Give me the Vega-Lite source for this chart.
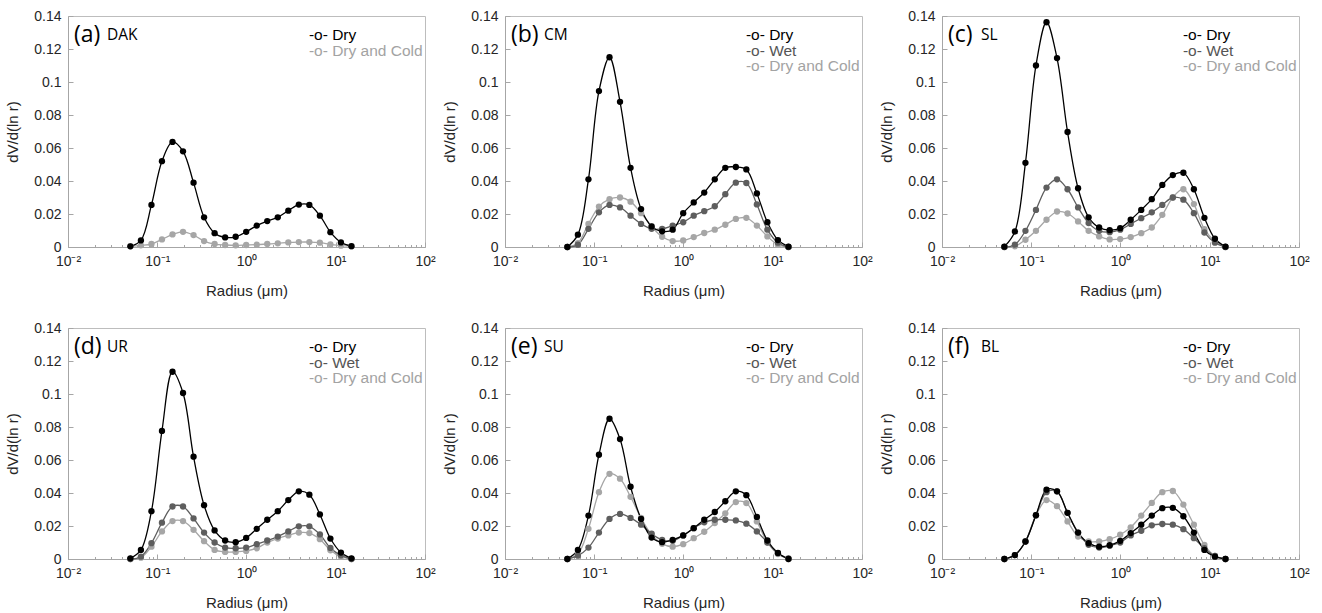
{
  "$schema": "https://vega.github.io/schema/vega-lite/v6.json",
  "padding": {"left": 5, "top": 8, "right": 0, "bottom": 0},
  "background": "white",
  "config": {
    "view": {"stroke": "#bdbdbd", "strokeWidth": 1},
    "header": {"labels": false, "title": null, "labelFontSize": 0, "labelPadding": 0, "titlePadding": 0},
    "axis": {"labelFont": "Liberation Sans", "titleFont": "Liberation Sans", "labelFontSize": 14, "titleFontSize": 15, "labelColor": "#262626", "titleColor": "#262626", "titleFontWeight": "normal", "domainColor": "#a6a6a6", "tickColor": "#a6a6a6", "grid": false}
  },
  "data": {"values": [
{"p":"(a) DAK","s":"Dry and Cold","r":0.05,"v":0.0005},{"p":"(a) DAK","s":"Dry and Cold","r":0.0656,"v":0.001},{"p":"(a) DAK","s":"Dry and Cold","r":0.0861,"v":0.0018},{"p":"(a) DAK","s":"Dry and Cold","r":0.1129,"v":0.0046},{"p":"(a) DAK","s":"Dry and Cold","r":0.1482,"v":0.0076},{"p":"(a) DAK","s":"Dry and Cold","r":0.1944,"v":0.0092},{"p":"(a) DAK","s":"Dry and Cold","r":0.2551,"v":0.0072},{"p":"(a) DAK","s":"Dry and Cold","r":0.3347,"v":0.0036},{"p":"(a) DAK","s":"Dry and Cold","r":0.4392,"v":0.0018},{"p":"(a) DAK","s":"Dry and Cold","r":0.5762,"v":0.0012},{"p":"(a) DAK","s":"Dry and Cold","r":0.7561,"v":0.001},{"p":"(a) DAK","s":"Dry and Cold","r":0.992,"v":0.0012},{"p":"(a) DAK","s":"Dry and Cold","r":1.3016,"v":0.0014},{"p":"(a) DAK","s":"Dry and Cold","r":1.7078,"v":0.0018},{"p":"(a) DAK","s":"Dry and Cold","r":2.2407,"v":0.0022},{"p":"(a) DAK","s":"Dry and Cold","r":2.94,"v":0.0028},{"p":"(a) DAK","s":"Dry and Cold","r":3.8575,"v":0.003},{"p":"(a) DAK","s":"Dry and Cold","r":5.0613,"v":0.003},{"p":"(a) DAK","s":"Dry and Cold","r":6.6407,"v":0.0026},{"p":"(a) DAK","s":"Dry and Cold","r":8.7131,"v":0.0016},{"p":"(a) DAK","s":"Dry and Cold","r":11.4323,"v":0.0008},{"p":"(a) DAK","s":"Dry and Cold","r":15,"v":0.0004},
{"p":"(a) DAK","s":"Dry","r":0.05,"v":0.0004},{"p":"(a) DAK","s":"Dry","r":0.0656,"v":0.004},{"p":"(a) DAK","s":"Dry","r":0.0861,"v":0.0255},{"p":"(a) DAK","s":"Dry","r":0.1129,"v":0.052},{"p":"(a) DAK","s":"Dry","r":0.1482,"v":0.0637},{"p":"(a) DAK","s":"Dry","r":0.1944,"v":0.058},{"p":"(a) DAK","s":"Dry","r":0.2551,"v":0.039},{"p":"(a) DAK","s":"Dry","r":0.3347,"v":0.018},{"p":"(a) DAK","s":"Dry","r":0.4392,"v":0.0084},{"p":"(a) DAK","s":"Dry","r":0.5762,"v":0.0058},{"p":"(a) DAK","s":"Dry","r":0.7561,"v":0.0062},{"p":"(a) DAK","s":"Dry","r":0.992,"v":0.0092},{"p":"(a) DAK","s":"Dry","r":1.3016,"v":0.013},{"p":"(a) DAK","s":"Dry","r":1.7078,"v":0.0157},{"p":"(a) DAK","s":"Dry","r":2.2407,"v":0.018},{"p":"(a) DAK","s":"Dry","r":2.94,"v":0.022},{"p":"(a) DAK","s":"Dry","r":3.8575,"v":0.0257},{"p":"(a) DAK","s":"Dry","r":5.0613,"v":0.0255},{"p":"(a) DAK","s":"Dry","r":6.6407,"v":0.019},{"p":"(a) DAK","s":"Dry","r":8.7131,"v":0.009},{"p":"(a) DAK","s":"Dry","r":11.4323,"v":0.0028},{"p":"(a) DAK","s":"Dry","r":15,"v":0.0005},
{"p":"(b) CM","s":"Dry and Cold","r":0.05,"v":0},{"p":"(b) CM","s":"Dry and Cold","r":0.0656,"v":0.0024},{"p":"(b) CM","s":"Dry and Cold","r":0.0861,"v":0.014},{"p":"(b) CM","s":"Dry and Cold","r":0.1129,"v":0.0245},{"p":"(b) CM","s":"Dry and Cold","r":0.1482,"v":0.029},{"p":"(b) CM","s":"Dry and Cold","r":0.1944,"v":0.03},{"p":"(b) CM","s":"Dry and Cold","r":0.2551,"v":0.0275},{"p":"(b) CM","s":"Dry and Cold","r":0.3347,"v":0.0205},{"p":"(b) CM","s":"Dry and Cold","r":0.4392,"v":0.0125},{"p":"(b) CM","s":"Dry and Cold","r":0.5762,"v":0.0062},{"p":"(b) CM","s":"Dry and Cold","r":0.7561,"v":0.0036},{"p":"(b) CM","s":"Dry and Cold","r":0.992,"v":0.004},{"p":"(b) CM","s":"Dry and Cold","r":1.3016,"v":0.006},{"p":"(b) CM","s":"Dry and Cold","r":1.7078,"v":0.0085},{"p":"(b) CM","s":"Dry and Cold","r":2.2407,"v":0.0105},{"p":"(b) CM","s":"Dry and Cold","r":2.94,"v":0.0135},{"p":"(b) CM","s":"Dry and Cold","r":3.8575,"v":0.017},{"p":"(b) CM","s":"Dry and Cold","r":5.0613,"v":0.0177},{"p":"(b) CM","s":"Dry and Cold","r":6.6407,"v":0.013},{"p":"(b) CM","s":"Dry and Cold","r":8.7131,"v":0.0064},{"p":"(b) CM","s":"Dry and Cold","r":11.4323,"v":0.0014},{"p":"(b) CM","s":"Dry and Cold","r":15,"v":0},
{"p":"(b) CM","s":"Wet","r":0.05,"v":0},{"p":"(b) CM","s":"Wet","r":0.0656,"v":0.0014},{"p":"(b) CM","s":"Wet","r":0.0861,"v":0.011},{"p":"(b) CM","s":"Wet","r":0.1129,"v":0.021},{"p":"(b) CM","s":"Wet","r":0.1482,"v":0.0255},{"p":"(b) CM","s":"Wet","r":0.1944,"v":0.024},{"p":"(b) CM","s":"Wet","r":0.2551,"v":0.019},{"p":"(b) CM","s":"Wet","r":0.3347,"v":0.014},{"p":"(b) CM","s":"Wet","r":0.4392,"v":0.011},{"p":"(b) CM","s":"Wet","r":0.5762,"v":0.011},{"p":"(b) CM","s":"Wet","r":0.7561,"v":0.013},{"p":"(b) CM","s":"Wet","r":0.992,"v":0.015},{"p":"(b) CM","s":"Wet","r":1.3016,"v":0.019},{"p":"(b) CM","s":"Wet","r":1.7078,"v":0.0217},{"p":"(b) CM","s":"Wet","r":2.2407,"v":0.0247},{"p":"(b) CM","s":"Wet","r":2.94,"v":0.032},{"p":"(b) CM","s":"Wet","r":3.8575,"v":0.039},{"p":"(b) CM","s":"Wet","r":5.0613,"v":0.0388},{"p":"(b) CM","s":"Wet","r":6.6407,"v":0.0258},{"p":"(b) CM","s":"Wet","r":8.7131,"v":0.0105},{"p":"(b) CM","s":"Wet","r":11.4323,"v":0.0026},{"p":"(b) CM","s":"Wet","r":15,"v":0},
{"p":"(b) CM","s":"Dry","r":0.05,"v":0},{"p":"(b) CM","s":"Dry","r":0.0656,"v":0.0075},{"p":"(b) CM","s":"Dry","r":0.0861,"v":0.041},{"p":"(b) CM","s":"Dry","r":0.1129,"v":0.0945},{"p":"(b) CM","s":"Dry","r":0.1482,"v":0.115},{"p":"(b) CM","s":"Dry","r":0.1944,"v":0.088},{"p":"(b) CM","s":"Dry","r":0.2551,"v":0.048},{"p":"(b) CM","s":"Dry","r":0.3347,"v":0.023},{"p":"(b) CM","s":"Dry","r":0.4392,"v":0.0125},{"p":"(b) CM","s":"Dry","r":0.5762,"v":0.0095},{"p":"(b) CM","s":"Dry","r":0.7561,"v":0.0105},{"p":"(b) CM","s":"Dry","r":0.992,"v":0.0205},{"p":"(b) CM","s":"Dry","r":1.3016,"v":0.027},{"p":"(b) CM","s":"Dry","r":1.7078,"v":0.033},{"p":"(b) CM","s":"Dry","r":2.2407,"v":0.041},{"p":"(b) CM","s":"Dry","r":2.94,"v":0.048},{"p":"(b) CM","s":"Dry","r":3.8575,"v":0.0485},{"p":"(b) CM","s":"Dry","r":5.0613,"v":0.047},{"p":"(b) CM","s":"Dry","r":6.6407,"v":0.0325},{"p":"(b) CM","s":"Dry","r":8.7131,"v":0.015},{"p":"(b) CM","s":"Dry","r":11.4323,"v":0.0042},{"p":"(b) CM","s":"Dry","r":15,"v":0.0002},
{"p":"(c) SL","s":"Dry and Cold","r":0.05,"v":0},{"p":"(c) SL","s":"Dry and Cold","r":0.0656,"v":0.0004},{"p":"(c) SL","s":"Dry and Cold","r":0.0861,"v":0.0044},{"p":"(c) SL","s":"Dry and Cold","r":0.1129,"v":0.0098},{"p":"(c) SL","s":"Dry and Cold","r":0.1482,"v":0.0165},{"p":"(c) SL","s":"Dry and Cold","r":0.1944,"v":0.0215},{"p":"(c) SL","s":"Dry and Cold","r":0.2551,"v":0.0203},{"p":"(c) SL","s":"Dry and Cold","r":0.3347,"v":0.0155},{"p":"(c) SL","s":"Dry and Cold","r":0.4392,"v":0.0098},{"p":"(c) SL","s":"Dry and Cold","r":0.5762,"v":0.0064},{"p":"(c) SL","s":"Dry and Cold","r":0.7561,"v":0.0046},{"p":"(c) SL","s":"Dry and Cold","r":0.992,"v":0.0048},{"p":"(c) SL","s":"Dry and Cold","r":1.3016,"v":0.006},{"p":"(c) SL","s":"Dry and Cold","r":1.7078,"v":0.0084},{"p":"(c) SL","s":"Dry and Cold","r":2.2407,"v":0.0118},{"p":"(c) SL","s":"Dry and Cold","r":2.94,"v":0.0195},{"p":"(c) SL","s":"Dry and Cold","r":3.8575,"v":0.03},{"p":"(c) SL","s":"Dry and Cold","r":5.0613,"v":0.035},{"p":"(c) SL","s":"Dry and Cold","r":6.6407,"v":0.026},{"p":"(c) SL","s":"Dry and Cold","r":8.7131,"v":0.0108},{"p":"(c) SL","s":"Dry and Cold","r":11.4323,"v":0.0034},{"p":"(c) SL","s":"Dry and Cold","r":15,"v":0},
{"p":"(c) SL","s":"Wet","r":0.05,"v":0},{"p":"(c) SL","s":"Wet","r":0.0656,"v":0.0014},{"p":"(c) SL","s":"Wet","r":0.0861,"v":0.0098},{"p":"(c) SL","s":"Wet","r":0.1129,"v":0.0225},{"p":"(c) SL","s":"Wet","r":0.1482,"v":0.036},{"p":"(c) SL","s":"Wet","r":0.1944,"v":0.041},{"p":"(c) SL","s":"Wet","r":0.2551,"v":0.035},{"p":"(c) SL","s":"Wet","r":0.3347,"v":0.024},{"p":"(c) SL","s":"Wet","r":0.4392,"v":0.0145},{"p":"(c) SL","s":"Wet","r":0.5762,"v":0.0098},{"p":"(c) SL","s":"Wet","r":0.7561,"v":0.009},{"p":"(c) SL","s":"Wet","r":0.992,"v":0.0105},{"p":"(c) SL","s":"Wet","r":1.3016,"v":0.014},{"p":"(c) SL","s":"Wet","r":1.7078,"v":0.0175},{"p":"(c) SL","s":"Wet","r":2.2407,"v":0.021},{"p":"(c) SL","s":"Wet","r":2.94,"v":0.0255},{"p":"(c) SL","s":"Wet","r":3.8575,"v":0.03},{"p":"(c) SL","s":"Wet","r":5.0613,"v":0.0287},{"p":"(c) SL","s":"Wet","r":6.6407,"v":0.0205},{"p":"(c) SL","s":"Wet","r":8.7131,"v":0.0088},{"p":"(c) SL","s":"Wet","r":11.4323,"v":0.0026},{"p":"(c) SL","s":"Wet","r":15,"v":0},
{"p":"(c) SL","s":"Dry","r":0.05,"v":0.0002},{"p":"(c) SL","s":"Dry","r":0.0656,"v":0.0094},{"p":"(c) SL","s":"Dry","r":0.0861,"v":0.051},{"p":"(c) SL","s":"Dry","r":0.1129,"v":0.11},{"p":"(c) SL","s":"Dry","r":0.1482,"v":0.1362},{"p":"(c) SL","s":"Dry","r":0.1944,"v":0.1145},{"p":"(c) SL","s":"Dry","r":0.2551,"v":0.0697},{"p":"(c) SL","s":"Dry","r":0.3347,"v":0.0356},{"p":"(c) SL","s":"Dry","r":0.4392,"v":0.018},{"p":"(c) SL","s":"Dry","r":0.5762,"v":0.0118},{"p":"(c) SL","s":"Dry","r":0.7561,"v":0.0102},{"p":"(c) SL","s":"Dry","r":0.992,"v":0.0114},{"p":"(c) SL","s":"Dry","r":1.3016,"v":0.0165},{"p":"(c) SL","s":"Dry","r":1.7078,"v":0.0225},{"p":"(c) SL","s":"Dry","r":2.2407,"v":0.029},{"p":"(c) SL","s":"Dry","r":2.94,"v":0.0376},{"p":"(c) SL","s":"Dry","r":3.8575,"v":0.0436},{"p":"(c) SL","s":"Dry","r":5.0613,"v":0.045},{"p":"(c) SL","s":"Dry","r":6.6407,"v":0.035},{"p":"(c) SL","s":"Dry","r":8.7131,"v":0.0177},{"p":"(c) SL","s":"Dry","r":11.4323,"v":0.005},{"p":"(c) SL","s":"Dry","r":15,"v":0.0002},
{"p":"(d) UR","s":"Dry and Cold","r":0.05,"v":0},{"p":"(d) UR","s":"Dry and Cold","r":0.0656,"v":0.0008},{"p":"(d) UR","s":"Dry and Cold","r":0.0861,"v":0.0075},{"p":"(d) UR","s":"Dry and Cold","r":0.1129,"v":0.0167},{"p":"(d) UR","s":"Dry and Cold","r":0.1482,"v":0.023},{"p":"(d) UR","s":"Dry and Cold","r":0.1944,"v":0.023},{"p":"(d) UR","s":"Dry and Cold","r":0.2551,"v":0.0177},{"p":"(d) UR","s":"Dry and Cold","r":0.3347,"v":0.0108},{"p":"(d) UR","s":"Dry and Cold","r":0.4392,"v":0.0055},{"p":"(d) UR","s":"Dry and Cold","r":0.5762,"v":0.0043},{"p":"(d) UR","s":"Dry and Cold","r":0.7561,"v":0.0043},{"p":"(d) UR","s":"Dry and Cold","r":0.992,"v":0.0049},{"p":"(d) UR","s":"Dry and Cold","r":1.3016,"v":0.0065},{"p":"(d) UR","s":"Dry and Cold","r":1.7078,"v":0.01},{"p":"(d) UR","s":"Dry and Cold","r":2.2407,"v":0.0124},{"p":"(d) UR","s":"Dry and Cold","r":2.94,"v":0.0143},{"p":"(d) UR","s":"Dry and Cold","r":3.8575,"v":0.016},{"p":"(d) UR","s":"Dry and Cold","r":5.0613,"v":0.0157},{"p":"(d) UR","s":"Dry and Cold","r":6.6407,"v":0.012},{"p":"(d) UR","s":"Dry and Cold","r":8.7131,"v":0.0053},{"p":"(d) UR","s":"Dry and Cold","r":11.4323,"v":0.0014},{"p":"(d) UR","s":"Dry and Cold","r":15,"v":0},
{"p":"(d) UR","s":"Wet","r":0.05,"v":0},{"p":"(d) UR","s":"Wet","r":0.0656,"v":0.0014},{"p":"(d) UR","s":"Wet","r":0.0861,"v":0.0096},{"p":"(d) UR","s":"Wet","r":0.1129,"v":0.022},{"p":"(d) UR","s":"Wet","r":0.1482,"v":0.0318},{"p":"(d) UR","s":"Wet","r":0.1944,"v":0.0318},{"p":"(d) UR","s":"Wet","r":0.2551,"v":0.0246},{"p":"(d) UR","s":"Wet","r":0.3347,"v":0.016},{"p":"(d) UR","s":"Wet","r":0.4392,"v":0.01},{"p":"(d) UR","s":"Wet","r":0.5762,"v":0.0069},{"p":"(d) UR","s":"Wet","r":0.7561,"v":0.0065},{"p":"(d) UR","s":"Wet","r":0.992,"v":0.0069},{"p":"(d) UR","s":"Wet","r":1.3016,"v":0.009},{"p":"(d) UR","s":"Wet","r":1.7078,"v":0.0112},{"p":"(d) UR","s":"Wet","r":2.2407,"v":0.0136},{"p":"(d) UR","s":"Wet","r":2.94,"v":0.0167},{"p":"(d) UR","s":"Wet","r":3.8575,"v":0.0198},{"p":"(d) UR","s":"Wet","r":5.0613,"v":0.0198},{"p":"(d) UR","s":"Wet","r":6.6407,"v":0.0149},{"p":"(d) UR","s":"Wet","r":8.7131,"v":0.0067},{"p":"(d) UR","s":"Wet","r":11.4323,"v":0.0022},{"p":"(d) UR","s":"Wet","r":15,"v":0},
{"p":"(d) UR","s":"Dry","r":0.05,"v":0.0004},{"p":"(d) UR","s":"Dry","r":0.0656,"v":0.0055},{"p":"(d) UR","s":"Dry","r":0.0861,"v":0.029},{"p":"(d) UR","s":"Dry","r":0.1129,"v":0.0776},{"p":"(d) UR","s":"Dry","r":0.1482,"v":0.1135},{"p":"(d) UR","s":"Dry","r":0.1944,"v":0.1006},{"p":"(d) UR","s":"Dry","r":0.2551,"v":0.062},{"p":"(d) UR","s":"Dry","r":0.3347,"v":0.0326},{"p":"(d) UR","s":"Dry","r":0.4392,"v":0.0173},{"p":"(d) UR","s":"Dry","r":0.5762,"v":0.0112},{"p":"(d) UR","s":"Dry","r":0.7561,"v":0.0102},{"p":"(d) UR","s":"Dry","r":0.992,"v":0.0128},{"p":"(d) UR","s":"Dry","r":1.3016,"v":0.0183},{"p":"(d) UR","s":"Dry","r":1.7078,"v":0.0238},{"p":"(d) UR","s":"Dry","r":2.2407,"v":0.029},{"p":"(d) UR","s":"Dry","r":2.94,"v":0.0357},{"p":"(d) UR","s":"Dry","r":3.8575,"v":0.041},{"p":"(d) UR","s":"Dry","r":5.0613,"v":0.039},{"p":"(d) UR","s":"Dry","r":6.6407,"v":0.027},{"p":"(d) UR","s":"Dry","r":8.7131,"v":0.0124},{"p":"(d) UR","s":"Dry","r":11.4323,"v":0.0039},{"p":"(d) UR","s":"Dry","r":15,"v":0.0004},
{"p":"(e) SU","s":"Dry and Cold","r":0.05,"v":0},{"p":"(e) SU","s":"Dry and Cold","r":0.0656,"v":0.003},{"p":"(e) SU","s":"Dry and Cold","r":0.0861,"v":0.0183},{"p":"(e) SU","s":"Dry and Cold","r":0.1129,"v":0.0405},{"p":"(e) SU","s":"Dry and Cold","r":0.1482,"v":0.0516},{"p":"(e) SU","s":"Dry and Cold","r":0.1944,"v":0.0487},{"p":"(e) SU","s":"Dry and Cold","r":0.2551,"v":0.0377},{"p":"(e) SU","s":"Dry and Cold","r":0.3347,"v":0.0249},{"p":"(e) SU","s":"Dry and Cold","r":0.4392,"v":0.0147},{"p":"(e) SU","s":"Dry and Cold","r":0.5762,"v":0.0092},{"p":"(e) SU","s":"Dry and Cold","r":0.7561,"v":0.0075},{"p":"(e) SU","s":"Dry and Cold","r":0.992,"v":0.009},{"p":"(e) SU","s":"Dry and Cold","r":1.3016,"v":0.0126},{"p":"(e) SU","s":"Dry and Cold","r":1.7078,"v":0.0165},{"p":"(e) SU","s":"Dry and Cold","r":2.2407,"v":0.0218},{"p":"(e) SU","s":"Dry and Cold","r":2.94,"v":0.0277},{"p":"(e) SU","s":"Dry and Cold","r":3.8575,"v":0.0345},{"p":"(e) SU","s":"Dry and Cold","r":5.0613,"v":0.0339},{"p":"(e) SU","s":"Dry and Cold","r":6.6407,"v":0.0228},{"p":"(e) SU","s":"Dry and Cold","r":8.7131,"v":0.01},{"p":"(e) SU","s":"Dry and Cold","r":11.4323,"v":0.003},{"p":"(e) SU","s":"Dry and Cold","r":15,"v":0},
{"p":"(e) SU","s":"Wet","r":0.05,"v":0},{"p":"(e) SU","s":"Wet","r":0.0656,"v":0.002},{"p":"(e) SU","s":"Wet","r":0.0861,"v":0.0069},{"p":"(e) SU","s":"Wet","r":0.1129,"v":0.016},{"p":"(e) SU","s":"Wet","r":0.1482,"v":0.0243},{"p":"(e) SU","s":"Wet","r":0.1944,"v":0.0273},{"p":"(e) SU","s":"Wet","r":0.2551,"v":0.0249},{"p":"(e) SU","s":"Wet","r":0.3347,"v":0.0208},{"p":"(e) SU","s":"Wet","r":0.4392,"v":0.0153},{"p":"(e) SU","s":"Wet","r":0.5762,"v":0.0116},{"p":"(e) SU","s":"Wet","r":0.7561,"v":0.011},{"p":"(e) SU","s":"Wet","r":0.992,"v":0.0143},{"p":"(e) SU","s":"Wet","r":1.3016,"v":0.0187},{"p":"(e) SU","s":"Wet","r":1.7078,"v":0.0222},{"p":"(e) SU","s":"Wet","r":2.2407,"v":0.0238},{"p":"(e) SU","s":"Wet","r":2.94,"v":0.0238},{"p":"(e) SU","s":"Wet","r":3.8575,"v":0.0234},{"p":"(e) SU","s":"Wet","r":5.0613,"v":0.0214},{"p":"(e) SU","s":"Wet","r":6.6407,"v":0.0167},{"p":"(e) SU","s":"Wet","r":8.7131,"v":0.01},{"p":"(e) SU","s":"Wet","r":11.4323,"v":0.0035},{"p":"(e) SU","s":"Wet","r":15,"v":0.0004},
{"p":"(e) SU","s":"Dry","r":0.05,"v":0},{"p":"(e) SU","s":"Dry","r":0.0656,"v":0.0055},{"p":"(e) SU","s":"Dry","r":0.0861,"v":0.0263},{"p":"(e) SU","s":"Dry","r":0.1129,"v":0.0632},{"p":"(e) SU","s":"Dry","r":0.1482,"v":0.085},{"p":"(e) SU","s":"Dry","r":0.1944,"v":0.0727},{"p":"(e) SU","s":"Dry","r":0.2551,"v":0.0438},{"p":"(e) SU","s":"Dry","r":0.3347,"v":0.0243},{"p":"(e) SU","s":"Dry","r":0.4392,"v":0.013},{"p":"(e) SU","s":"Dry","r":0.5762,"v":0.0102},{"p":"(e) SU","s":"Dry","r":0.7561,"v":0.0116},{"p":"(e) SU","s":"Dry","r":0.992,"v":0.0143},{"p":"(e) SU","s":"Dry","r":1.3016,"v":0.0187},{"p":"(e) SU","s":"Dry","r":1.7078,"v":0.0238},{"p":"(e) SU","s":"Dry","r":2.2407,"v":0.0285},{"p":"(e) SU","s":"Dry","r":2.94,"v":0.035},{"p":"(e) SU","s":"Dry","r":3.8575,"v":0.041},{"p":"(e) SU","s":"Dry","r":5.0613,"v":0.0387},{"p":"(e) SU","s":"Dry","r":6.6407,"v":0.0255},{"p":"(e) SU","s":"Dry","r":8.7131,"v":0.0112},{"p":"(e) SU","s":"Dry","r":11.4323,"v":0.0037},{"p":"(e) SU","s":"Dry","r":15,"v":0},
{"p":"(f) BL","s":"Dry and Cold","r":0.05,"v":0},{"p":"(f) BL","s":"Dry and Cold","r":0.0656,"v":0.0024},{"p":"(f) BL","s":"Dry and Cold","r":0.0861,"v":0.0106},{"p":"(f) BL","s":"Dry and Cold","r":0.1129,"v":0.0265},{"p":"(f) BL","s":"Dry and Cold","r":0.1482,"v":0.0357},{"p":"(f) BL","s":"Dry and Cold","r":0.1944,"v":0.032},{"p":"(f) BL","s":"Dry and Cold","r":0.2551,"v":0.0228},{"p":"(f) BL","s":"Dry and Cold","r":0.3347,"v":0.0136},{"p":"(f) BL","s":"Dry and Cold","r":0.4392,"v":0.0106},{"p":"(f) BL","s":"Dry and Cold","r":0.5762,"v":0.0106},{"p":"(f) BL","s":"Dry and Cold","r":0.7561,"v":0.012},{"p":"(f) BL","s":"Dry and Cold","r":0.992,"v":0.0147},{"p":"(f) BL","s":"Dry and Cold","r":1.3016,"v":0.0192},{"p":"(f) BL","s":"Dry and Cold","r":1.7078,"v":0.0263},{"p":"(f) BL","s":"Dry and Cold","r":2.2407,"v":0.034},{"p":"(f) BL","s":"Dry and Cold","r":2.94,"v":0.0405},{"p":"(f) BL","s":"Dry and Cold","r":3.8575,"v":0.0412},{"p":"(f) BL","s":"Dry and Cold","r":5.0613,"v":0.033},{"p":"(f) BL","s":"Dry and Cold","r":6.6407,"v":0.0208},{"p":"(f) BL","s":"Dry and Cold","r":8.7131,"v":0.0086},{"p":"(f) BL","s":"Dry and Cold","r":11.4323,"v":0.0018},{"p":"(f) BL","s":"Dry and Cold","r":15,"v":0},
{"p":"(f) BL","s":"Wet","r":0.05,"v":0},{"p":"(f) BL","s":"Wet","r":0.0656,"v":0.0024},{"p":"(f) BL","s":"Wet","r":0.0861,"v":0.0106},{"p":"(f) BL","s":"Wet","r":0.1129,"v":0.0265},{"p":"(f) BL","s":"Wet","r":0.1482,"v":0.0405},{"p":"(f) BL","s":"Wet","r":0.1944,"v":0.041},{"p":"(f) BL","s":"Wet","r":0.2551,"v":0.028},{"p":"(f) BL","s":"Wet","r":0.3347,"v":0.016},{"p":"(f) BL","s":"Wet","r":0.4392,"v":0.0086},{"p":"(f) BL","s":"Wet","r":0.5762,"v":0.0069},{"p":"(f) BL","s":"Wet","r":0.7561,"v":0.008},{"p":"(f) BL","s":"Wet","r":0.992,"v":0.01},{"p":"(f) BL","s":"Wet","r":1.3016,"v":0.0143},{"p":"(f) BL","s":"Wet","r":1.7078,"v":0.0171},{"p":"(f) BL","s":"Wet","r":2.2407,"v":0.0204},{"p":"(f) BL","s":"Wet","r":2.94,"v":0.0212},{"p":"(f) BL","s":"Wet","r":3.8575,"v":0.0208},{"p":"(f) BL","s":"Wet","r":5.0613,"v":0.0181},{"p":"(f) BL","s":"Wet","r":6.6407,"v":0.0126},{"p":"(f) BL","s":"Wet","r":8.7131,"v":0.0065},{"p":"(f) BL","s":"Wet","r":11.4323,"v":0.0018},{"p":"(f) BL","s":"Wet","r":15,"v":0},
{"p":"(f) BL","s":"Dry","r":0.05,"v":0},{"p":"(f) BL","s":"Dry","r":0.0656,"v":0.0024},{"p":"(f) BL","s":"Dry","r":0.0861,"v":0.0106},{"p":"(f) BL","s":"Dry","r":0.1129,"v":0.0265},{"p":"(f) BL","s":"Dry","r":0.1482,"v":0.042},{"p":"(f) BL","s":"Dry","r":0.1944,"v":0.041},{"p":"(f) BL","s":"Dry","r":0.2551,"v":0.028},{"p":"(f) BL","s":"Dry","r":0.3347,"v":0.016},{"p":"(f) BL","s":"Dry","r":0.4392,"v":0.0096},{"p":"(f) BL","s":"Dry","r":0.5762,"v":0.0075},{"p":"(f) BL","s":"Dry","r":0.7561,"v":0.0084},{"p":"(f) BL","s":"Dry","r":0.992,"v":0.011},{"p":"(f) BL","s":"Dry","r":1.3016,"v":0.0157},{"p":"(f) BL","s":"Dry","r":1.7078,"v":0.0208},{"p":"(f) BL","s":"Dry","r":2.2407,"v":0.0263},{"p":"(f) BL","s":"Dry","r":2.94,"v":0.0308},{"p":"(f) BL","s":"Dry","r":3.8575,"v":0.031},{"p":"(f) BL","s":"Dry","r":5.0613,"v":0.0259},{"p":"(f) BL","s":"Dry","r":6.6407,"v":0.016},{"p":"(f) BL","s":"Dry","r":8.7131,"v":0.0055},{"p":"(f) BL","s":"Dry","r":11.4323,"v":0.0014},{"p":"(f) BL","s":"Dry","r":15,"v":0}
  ]},
  "facet": {"field": "p", "type": "nominal", "header": null},
  "columns": 3,
  "spacing": {"column": 80, "row": 81},
  "bounds": "flush",
  "resolve": {"axis": {"x": "independent", "y": "independent"}},
  "spec": {
    "width": 357,
    "height": 231,
    "encoding": {
      "x": {"field": "r", "type": "quantitative",
        "scale": {"type": "log", "domain": [0.01, 100], "nice": false},
        "axis": {"title": "Radius (μm)", "titlePadding": 13,
          "values": [0.01,0.02,0.03,0.04,0.05,0.06,0.07,0.08,0.09,0.1,0.2,0.3,0.4,0.5,0.6,0.7,0.8,0.9,1,2,3,4,5,6,7,8,9,10,20,30,40,50,60,70,80,90,100],
          "labelExpr": "datum.value==0.01?'10⁻²':datum.value==0.1?'10⁻¹':datum.value==1?'10⁰':datum.value==10?'10¹':datum.value==100?'10²':''",
          "labelOverlap": false, "labelFlush": false, "labelBound": false,
          "tickSize": {"condition": {"test": "indexof([0.01,0.1,1,10,100], datum.value) >= 0", "value": -5}, "value": -2.5},
          "labelPadding": 12}},
      "y": {"field": "v", "type": "quantitative",
        "scale": {"domain": [0, 0.14], "nice": false},
        "axis": {"title": "dV/d(ln r)", "values": [0,0.02,0.04,0.06,0.08,0.1,0.12,0.14], "format": "~g", "tickSize": -5, "labelPadding": 12, "titlePadding": 13}}
    },
    "layer": [
      {"mark": {"type": "line", "interpolate": "catmull-rom", "strokeWidth": 1.3},
       "encoding": {"color": {"field": "s", "type": "nominal", "legend": null,
          "scale": {"domain": ["Dry", "Wet", "Dry and Cold"], "range": ["#000000", "#5e5e5e", "#a6a6a6"]}}}},
      {"mark": {"type": "point", "filled": true, "size": 40, "opacity": 1},
       "encoding": {"color": {"field": "s", "type": "nominal", "legend": null}}},
      {"transform": [{"filter": "datum.s == 'Dry' && datum.r == 0.05"}, {"calculate": "split(datum.p, ' ')[0]", "as": "lt"}],
       "mark": {"type": "text", "align": "left", "baseline": "middle", "dx": 6, "font": "Open Sans", "fontSize": 23, "color": "#000000"},
       "encoding": {"x": {"datum": 0.01}, "y": {"datum": 0.1285}, "text": {"field": "lt"}}},
      {"transform": [{"filter": "datum.s == 'Dry' && datum.r == 0.05"}, {"calculate": "split(datum.p, ' ')[1]", "as": "nm"}],
       "mark": {"type": "text", "align": "left", "baseline": "middle", "dx": 39, "font": "Open Sans", "fontSize": 15.5, "color": "#000000"},
       "encoding": {"x": {"datum": 0.01}, "y": {"datum": 0.1285}, "text": {"field": "nm"}}},
      {"transform": [{"filter": "datum.s == 'Dry' && datum.r == 0.05"}, {"calculate": "'-o- ' + datum.s", "as": "lg"}],
       "mark": {"type": "text", "align": "left", "baseline": "middle", "font": "Liberation Sans", "fontSize": 15.5, "color": "#000000"},
       "encoding": {"x": {"datum": 5.0}, "y": {"datum": 0.1285}, "text": {"field": "lg"}}},
      {"transform": [{"filter": "datum.s == 'Wet' && datum.r == 0.05"}, {"calculate": "'-o- ' + datum.s", "as": "lg"}],
       "mark": {"type": "text", "align": "left", "baseline": "middle", "font": "Liberation Sans", "fontSize": 15.5, "color": "#555555"},
       "encoding": {"x": {"datum": 5.0}, "y": {"datum": 0.119}, "text": {"field": "lg"}}},
      {"transform": [{"filter": "datum.s == 'Dry and Cold' && datum.r == 0.05 && datum.p != '(a) DAK'"}, {"calculate": "'-o- ' + datum.s", "as": "lg"}],
       "mark": {"type": "text", "align": "left", "baseline": "middle", "font": "Liberation Sans", "fontSize": 15.5, "color": "#a3a3a3"},
       "encoding": {"x": {"datum": 5.0}, "y": {"datum": 0.1095}, "text": {"field": "lg"}}},
      {"transform": [{"filter": "datum.s == 'Dry and Cold' && datum.r == 0.05 && datum.p == '(a) DAK'"}, {"calculate": "'-o- ' + datum.s", "as": "lg"}],
       "mark": {"type": "text", "align": "left", "baseline": "middle", "font": "Liberation Sans", "fontSize": 15.5, "color": "#a3a3a3"},
       "encoding": {"x": {"datum": 5.0}, "y": {"datum": 0.119}, "text": {"field": "lg"}}}
    ]
  }
}
